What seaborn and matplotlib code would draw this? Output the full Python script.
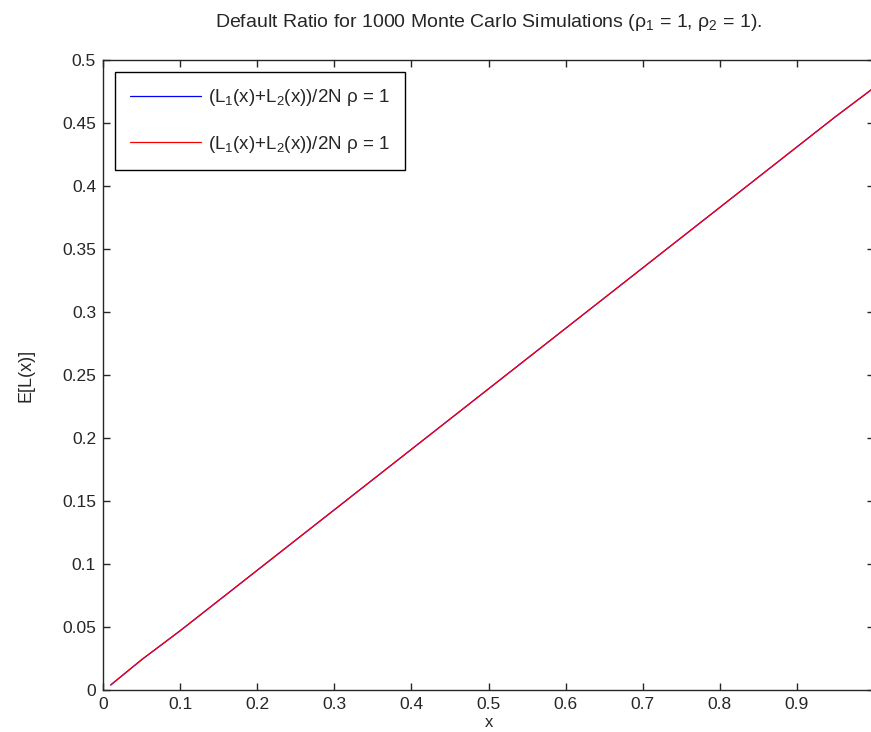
import pandas as pd
import seaborn as sns
from matplotlib import pyplot as plt

# default ratio vs x
x_vals = [0.01, 0.05, 0.10, 0.15, 0.20, 0.25, 0.30, 0.35, 0.40, 0.45, 0.50,
          0.55, 0.60, 0.65, 0.70, 0.75, 0.80, 0.85, 0.90, 0.95, 1.00]
ratio_vals = [0.004, 0.024, 0.047, 0.071, 0.095, 0.119, 0.143, 0.167, 0.191,
              0.215, 0.239, 0.263, 0.287, 0.311, 0.335, 0.359, 0.383, 0.407,
              0.431, 0.455, 0.478]
series_labels = ['(L$_1$(x)+L$_2$(x))/2N ρ = 1', '(L$_1$(x)+L$_2$(x))/2N ρ = 1']
series_colors = ['#0000ff', '#ff0000']
x_ticks = [0, 0.1, 0.2, 0.3, 0.4, 0.5, 0.6, 0.7, 0.8, 0.9, 1]
y_ticks = [0, 0.05, 0.1, 0.15, 0.2, 0.25, 0.3, 0.35, 0.4, 0.45, 0.5]

sns.set_style('ticks')
plt.rcParams['font.family'] = ['Liberation Sans', 'DejaVu Sans']
plt.rcParams['mathtext.fontset'] = 'custom'
plt.rcParams['mathtext.rm'] = 'Liberation Sans'
plt.rcParams['mathtext.it'] = 'Liberation Sans'
plt.rcParams['mathtext.default'] = 'regular'

df = pd.DataFrame({'x': x_vals, 'ratio': ratio_vals})

f = plt.figure(figsize=(8.71, 7.32), dpi=100)
ax = f.add_axes([103 / 871, 42 / 732, 771 / 871, 630 / 732])

for lab, col in zip(series_labels, series_colors):
    sns.lineplot(data=df, x='x', y='ratio', ax=ax, color=col, lw=0.9,
                 label=lab)

ax.set_xlim(0, 1)
ax.set_ylim(0, 0.5)
ax.set_xticks(x_ticks)
ax.set_xticklabels([f'{t:g}' for t in x_ticks])
ax.set_yticks(y_ticks)
ax.set_yticklabels([f'{t:g}' for t in y_ticks])
ax.tick_params(direction='in', length=5, width=1, top=True, right=True,
               labelsize=12.5, colors='#262626', pad=5)
for s in ax.spines.values():
    s.set_linewidth(1)
    s.set_color('#262626')

ax.set_xlabel('x', fontsize=12, labelpad=2)
ax.set_ylabel('E[L(x)]', fontsize=13, labelpad=20)
ax.set_title('Default Ratio for 1000 Monte Carlo Simulations (ρ$_1$ = 1, ρ$_2$ = 1).',
             fontsize=14, pad=24)

leg = ax.legend(loc='upper left', fontsize=13.5, fancybox=False, framealpha=1,
                edgecolor='black', handlelength=3.8, handletextpad=0.35,
                borderaxespad=0.65, labelspacing=1.35, borderpad=0.8)
leg.get_frame().set_linewidth(1)

f.savefig('out.png', dpi=100)
